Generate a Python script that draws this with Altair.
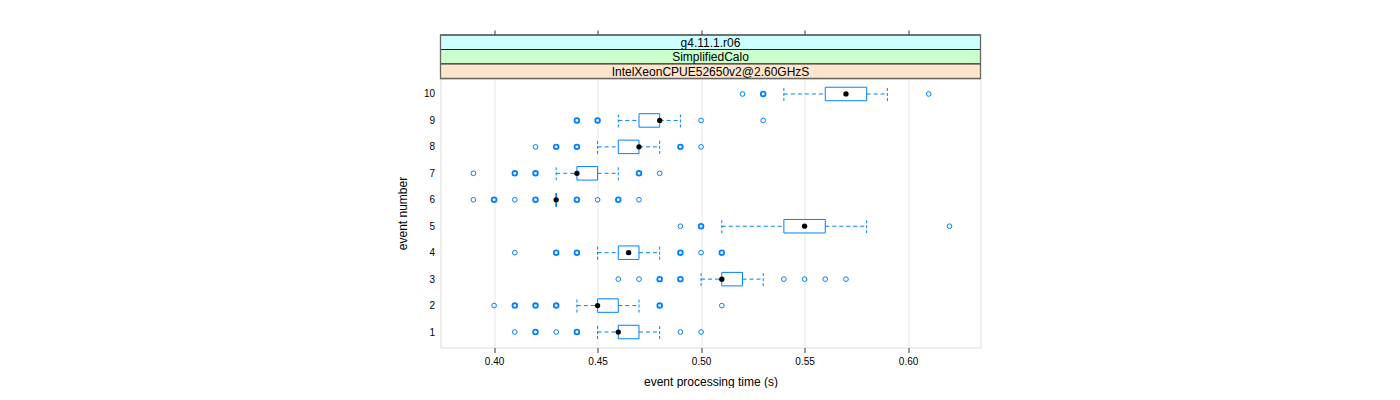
import altair as alt
import pandas as pd

# ---- data ----
events = [1, 2, 3, 4, 5, 6, 7, 8, 9, 10]
whisker_lo = [0.45, 0.44, 0.50, 0.45, 0.51, 0.43, 0.43, 0.45, 0.46, 0.54]
q1 = [0.46, 0.45, 0.51, 0.46, 0.54, 0.43, 0.44, 0.46, 0.47, 0.56]
median = [0.46, 0.45, 0.51, 0.465, 0.55, 0.43, 0.44, 0.47, 0.48, 0.57]
q3 = [0.47, 0.46, 0.52, 0.47, 0.56, 0.43, 0.45, 0.47, 0.48, 0.58]
whisker_hi = [0.48, 0.47, 0.53, 0.48, 0.58, 0.43, 0.46, 0.48, 0.49, 0.59]

out_event = [1, 1, 1, 1, 1, 1,
             2, 2, 2, 2, 2, 2,
             3, 3, 3, 3, 3, 3, 3, 3,
             4, 4, 4, 4, 4, 4,
             5, 5, 5,
             6, 6, 6, 6, 6, 6, 6, 6,
             7, 7, 7, 7, 7,
             8, 8, 8, 8, 8,
             9, 9, 9, 9,
             10, 10, 10]
out_value = [0.41, 0.42, 0.43, 0.44, 0.49, 0.50,
             0.40, 0.41, 0.42, 0.43, 0.48, 0.51,
             0.46, 0.47, 0.48, 0.49, 0.54, 0.55, 0.56, 0.57,
             0.41, 0.43, 0.44, 0.49, 0.50, 0.51,
             0.49, 0.50, 0.62,
             0.39, 0.40, 0.41, 0.42, 0.44, 0.45, 0.46, 0.47,
             0.39, 0.41, 0.42, 0.47, 0.48,
             0.42, 0.43, 0.44, 0.49, 0.50,
             0.44, 0.45, 0.50, 0.53,
             0.52, 0.53, 0.61]
out_count = [1, 3, 1, 3, 1, 1,
             1, 3, 3, 3, 3, 1,
             1, 1, 3, 3, 1, 1, 1, 1,
             1, 3, 3, 3, 1, 3,
             1, 3, 1,
             1, 3, 1, 3, 3, 1, 3, 1,
             1, 3, 3, 3, 1,
             1, 3, 3, 3, 1,
             3, 3, 1, 1,
             1, 3, 1]

strip_labels = ["g4.11.1.r06", "SimplifiedCalo", "IntelXeonCPUE52650v2@2.60GHzS"]
strip_colors = ["#ccffff", "#ccffcc", "#ffe5cc"]
x_ticks = [0.40, 0.45, 0.50, 0.55, 0.60]

box_df = pd.DataFrame({"event": events, "wlo": whisker_lo, "q1": q1,
                       "med": median, "q3": q3, "whi": whisker_hi})
out_df = pd.DataFrame({"event": out_event, "value": out_value, "mult": out_count})

W, H = 540, 269
BLUE = "#0080ff"
FONT = "Liberation Sans"

xscale = alt.Scale(domain=[0.3741, 0.6350], nice=False, zero=False, padding=0)
yscale = alt.Scale(domain=[0.415, 10.585], nice=False, zero=False, padding=0)

xaxis = alt.Axis(values=x_ticks, format=".2f", title="event processing time (s)",
                 orient="bottom",
                 grid=True, gridColor="#e8e8e8", gridWidth=1, domain=False,
                 tickSize=5, tickColor="#333333", labelFontSize=10, labelColor="#000",
                 labelPadding=4, titleFontSize=12, titleFontWeight="normal",
                 titleColor="#000", titlePadding=10, labelFont=FONT, titleFont=FONT)
yaxis = alt.Axis(values=events, title="event number", grid=False, domain=False,
                 ticks=False, labelFontSize=10, labelColor="#000", labelPadding=6,
                 labelOverlap=False, tickCount=10,
                 titleFontSize=12, titleFontWeight="normal", titleColor="#000",
                 titlePadding=14, labelFont=FONT, titleFont=FONT)

y_enc = alt.Y("event:Q", scale=yscale, axis=yaxis)

base_box = alt.Chart(box_df)

box = base_box.mark_bar(orient="horizontal", size=13.5, fill="white",
                        stroke=BLUE, strokeWidth=1).encode(
    x=alt.X("q1:Q", scale=xscale, axis=xaxis),
    x2="q3:Q",
    y=y_enc,
)

whisk_lo = base_box.mark_rule(color=BLUE, strokeDash=[4, 3], strokeWidth=1).encode(
    x="wlo:Q", x2="q1:Q", y=y_enc)
whisk_hi = base_box.mark_rule(color=BLUE, strokeDash=[4, 3], strokeWidth=1).encode(
    x="q3:Q", x2="whi:Q", y=y_enc)

staple_base = base_box.transform_calculate(
    ylo="datum.event - 0.265", yhi="datum.event + 0.265")
staple_lo = staple_base.mark_rule(color=BLUE, strokeDash=[3, 2], strokeWidth=1).encode(
    x="wlo:Q", y=alt.Y("ylo:Q", scale=yscale, axis=yaxis), y2="yhi:Q")
staple_hi = staple_base.mark_rule(color=BLUE, strokeDash=[3, 2], strokeWidth=1).encode(
    x="whi:Q", y=alt.Y("ylo:Q", scale=yscale, axis=yaxis), y2="yhi:Q")

med = base_box.mark_circle(size=28, color="black", opacity=1).encode(
    x="med:Q", y=y_enc)

outl = alt.Chart(out_df).mark_point(shape="circle", filled=False, size=22,
                                    color=BLUE, opacity=1).encode(
    x="value:Q", y=y_enc,
    strokeWidth=alt.condition("datum.mult > 1", alt.value(1.8), alt.value(1.0)),
)

main = alt.layer(box, whisk_lo, whisk_hi, staple_lo, staple_hi, outl, med)

# top axis ticks above the strips
top_ticks = alt.Chart(pd.DataFrame({"t": x_ticks})).mark_rule(opacity=0).encode(
    x=alt.X("t:Q", scale=xscale,
            axis=alt.Axis(orient="top", values=x_ticks, labels=False, title=None,
                          domain=False, grid=False, tickSize=5, tickColor="#333333",
                          offset=43.5)),
    y=alt.value(0),
)

# strips (decoration drawn above the plot area)
strip_layers = []
strip_h = 14.5
top0 = -43.5
for i, (lab, col) in enumerate(zip(strip_labels, strip_colors)):
    y0 = top0 + i * strip_h
    sdf = pd.DataFrame({"label": [lab]})
    r = alt.Chart(sdf).mark_rect(fill=col, stroke="#000000", strokeWidth=0.8,
                                 clip=False).encode(
        x=alt.value(0), x2=alt.value(W), y=alt.value(y0), y2=alt.value(y0 + strip_h))
    t = alt.Chart(sdf).mark_text(font=FONT, fontSize=12, color="#000",
                                 baseline="middle", align="center").encode(
        x=alt.value(W / 2), y=alt.value(y0 + strip_h / 2 + 0.5), text="label:N")
    strip_layers += [r, t]

strip_frame = alt.Chart(pd.DataFrame({"a": [0]})).mark_rect(
    fill=None, stroke="#666666", strokeWidth=1.3).encode(
    x=alt.value(0), x2=alt.value(W), y=alt.value(top0), y2=alt.value(0))

chart = alt.layer(
    main, top_ticks, *strip_layers, strip_frame
).resolve_axis(x="independent").properties(
    width=W, height=H,
    padding={"left": 432.5, "top": 70.5, "right": 10, "bottom": 40},
    autosize=alt.AutoSizeParams(type="none"),
).configure_view(
    stroke="#666666", strokeWidth=1.3
).configure_axisY(
    labelOverlap=False
).configure(
    font=FONT, background="white"
)

chart.save("out.html", embed_options={"renderer": "svg", "actions": False})
